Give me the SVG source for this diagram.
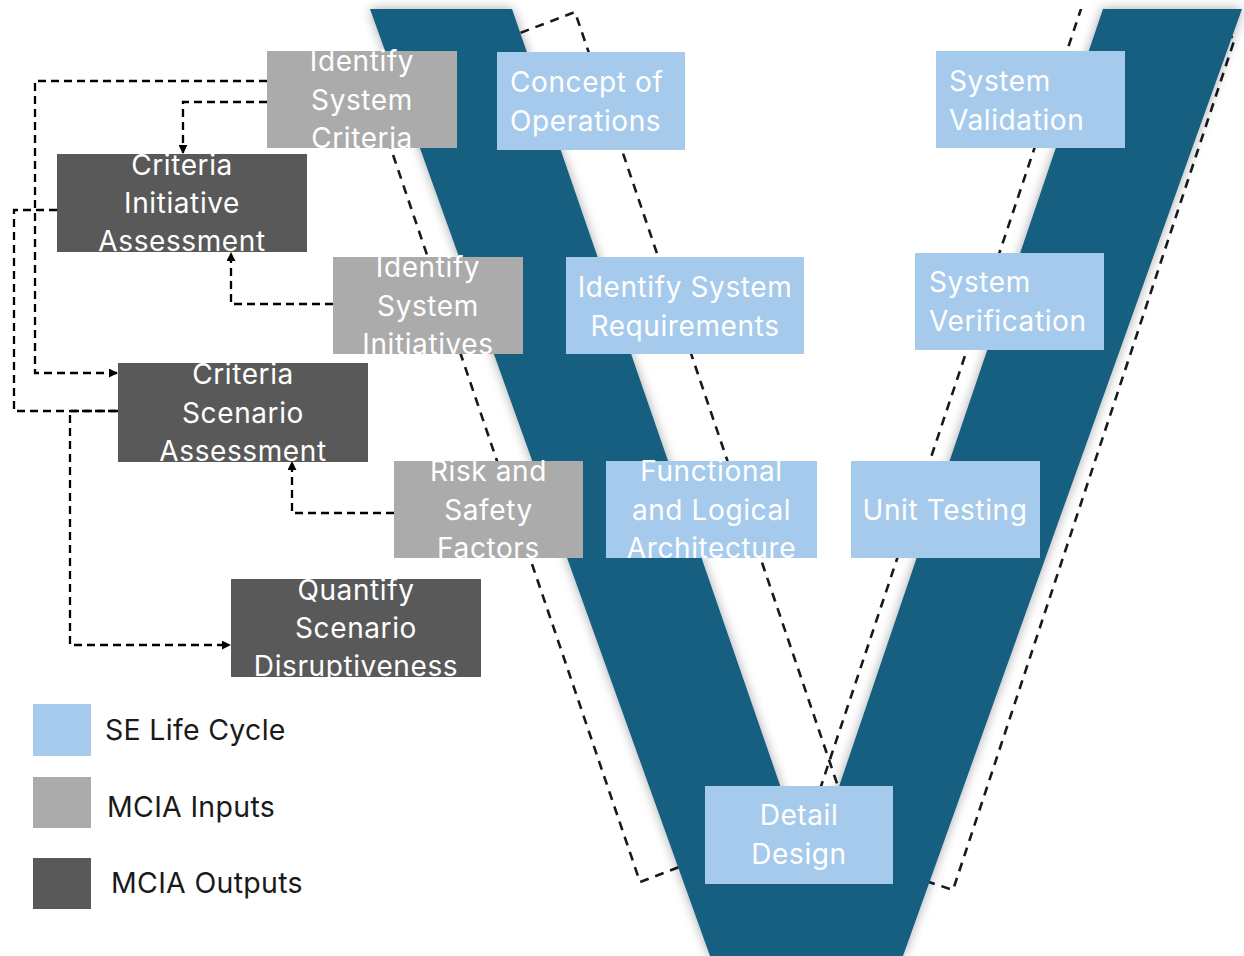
<svg xmlns="http://www.w3.org/2000/svg" width="1244" height="956" viewBox="0 0 1244 956">
  <defs>
    <style>
      .life { fill: #a6caec; }
      .input { fill: #ababab; }
      .output { fill: #595959; }
      .label { font-family: Inter, "Liberation Sans", sans-serif; font-size: 28px; letter-spacing: 0.6px; fill: #ffffff; }
      .mid { text-anchor: middle; }
      .legend { font-family: Inter, "Liberation Sans", sans-serif; font-size: 28.5px; letter-spacing: 0.3px; fill: #1a1a1a; }
      .bracket { fill: none; stroke: #141a20; stroke-width: 2.6; stroke-dasharray: 9 7; }
      .link { fill: none; stroke: #000000; stroke-width: 2.3; stroke-dasharray: 8 5; }
    </style>
    <marker id="arrow" viewBox="0 0 10 10" refX="9" refY="5" markerWidth="9" markerHeight="9" markerUnits="userSpaceOnUse" orient="auto">
      <path d="M0,0 L10,5 L0,10 Z" fill="#000000"/>
    </marker>
    <filter id="glow" x="-10%" y="-10%" width="120%" height="120%">
      <feGaussianBlur in="SourceAlpha" stdDeviation="6"/>
      <feComponentTransfer><feFuncA type="linear" slope="0.35"/></feComponentTransfer>
      <feMerge><feMergeNode/><feMergeNode in="SourceGraphic"/></feMerge>
    </filter>
    <clipPath id="frame"><rect x="0" y="9" width="1244" height="947"/></clipPath>
  </defs>

  <rect width="1244" height="956" fill="#ffffff"/>

  <!-- dashed phase brackets behind the V -->
  <g id="brackets" clip-path="url(#frame)">
    <polygon class="bracket" points="371,90 575,12 844,804 640,882"/>
    <polygon class="bracket" points="1088,-12 1235,38 953,890 803,840"/>
  </g>

  <!-- V model -->
  <g id="v-model" filter="url(#glow)">
    <polygon points="370,9 512,9 810,872 1103,9 1242,9 903,956 710,956" fill="#165e80"/>
  </g>

  <!-- SE life cycle stages -->
  <g id="concept-of-operations">
    <rect class="life" x="497" y="52" width="188" height="98"/>
    <text class="label" x="510" y="92">Concept of</text>
    <text class="label" x="510" y="131">Operations</text>
  </g>
  <g id="system-validation">
    <rect class="life" x="936" y="51" width="189" height="97"/>
    <text class="label" x="949" y="91">System</text>
    <text class="label" x="949" y="130">Validation</text>
  </g>
  <g id="identify-system-requirements">
    <rect class="life" x="566" y="257" width="238" height="97"/>
    <text class="label mid" x="685" y="297">Identify System</text>
    <text class="label mid" x="685" y="336">Requirements</text>
  </g>
  <g id="system-verification">
    <rect class="life" x="915" y="253" width="189" height="97"/>
    <text class="label" x="929" y="292">System</text>
    <text class="label" x="929" y="331">Verification</text>
  </g>
  <g id="functional-logical-architecture">
    <rect class="life" x="606" y="461" width="211" height="97"/>
    <text class="label mid" x="711.5" y="481">Functional</text>
    <text class="label mid" x="711.5" y="519.5">and Logical</text>
    <text class="label mid" x="711.5" y="558">Architecture</text>
  </g>
  <g id="unit-testing">
    <rect class="life" x="851" y="461" width="189" height="97"/>
    <text class="label mid" x="945" y="519.5">Unit Testing</text>
  </g>
  <g id="detail-design">
    <rect class="life" x="705" y="786" width="188" height="98"/>
    <text class="label mid" x="799" y="825">Detail</text>
    <text class="label mid" x="799" y="864">Design</text>
  </g>

  <!-- MCIA inputs -->
  <g id="identify-system-criteria">
    <rect class="input" x="267" y="51" width="190" height="97"/>
    <text class="label mid" x="362" y="71">Identify</text>
    <text class="label mid" x="362" y="109.5">System</text>
    <text class="label mid" x="362" y="148">Criteria</text>
  </g>
  <g id="identify-system-initiatives">
    <rect class="input" x="333" y="257" width="190" height="97"/>
    <text class="label mid" x="428" y="277">Identify</text>
    <text class="label mid" x="428" y="315.5">System</text>
    <text class="label mid" x="428" y="354">Initiatives</text>
  </g>
  <g id="risk-safety-factors">
    <rect class="input" x="394" y="461" width="189" height="97"/>
    <text class="label mid" x="488.5" y="481">Risk and</text>
    <text class="label mid" x="488.5" y="519.5">Safety</text>
    <text class="label mid" x="488.5" y="558">Factors</text>
  </g>

  <!-- MCIA outputs -->
  <g id="criteria-initiative-assessment">
    <rect class="output" x="57" y="154" width="250" height="98"/>
    <text class="label mid" x="182" y="175">Criteria</text>
    <text class="label mid" x="182" y="213">Initiative</text>
    <text class="label mid" x="182" y="251">Assessment</text>
  </g>
  <g id="criteria-scenario-assessment">
    <rect class="output" x="118" y="363" width="250" height="99"/>
    <text class="label mid" x="243" y="384">Criteria</text>
    <text class="label mid" x="243" y="422.5">Scenario</text>
    <text class="label mid" x="243" y="461">Assessment</text>
  </g>
  <g id="quantify-scenario-disruptiveness">
    <rect class="output" x="231" y="579" width="250" height="98"/>
    <text class="label mid" x="356" y="600">Quantify</text>
    <text class="label mid" x="356" y="638">Scenario</text>
    <text class="label mid" x="356" y="676">Disruptiveness</text>
  </g>

  <!-- MCIA flow connectors -->
  <g id="connectors">
    <path class="link" d="M267,81 H35 V373 H117" marker-end="url(#arrow)"/>
    <path class="link" d="M267,102 H183 V153" marker-end="url(#arrow)"/>
    <path class="link" d="M57,210 H14 V411 H118"/>
    <path class="link" d="M118,411 H70 V645 H230" marker-end="url(#arrow)"/>
    <path class="link" d="M333,304 H231 V253" marker-end="url(#arrow)"/>
    <path class="link" d="M394,513 H292 V462" marker-end="url(#arrow)"/>
  </g>

  <!-- legend -->
  <g id="legend">
    <rect class="life" x="33" y="704" width="58" height="52"/>
    <text class="legend" x="105" y="740">SE Life Cycle</text>
    <rect class="input" x="33" y="777" width="58" height="51"/>
    <text class="legend" x="107" y="817">MCIA Inputs</text>
    <rect class="output" x="33" y="858" width="58" height="51"/>
    <text class="legend" x="111" y="893">MCIA Outputs</text>
  </g>
</svg>
